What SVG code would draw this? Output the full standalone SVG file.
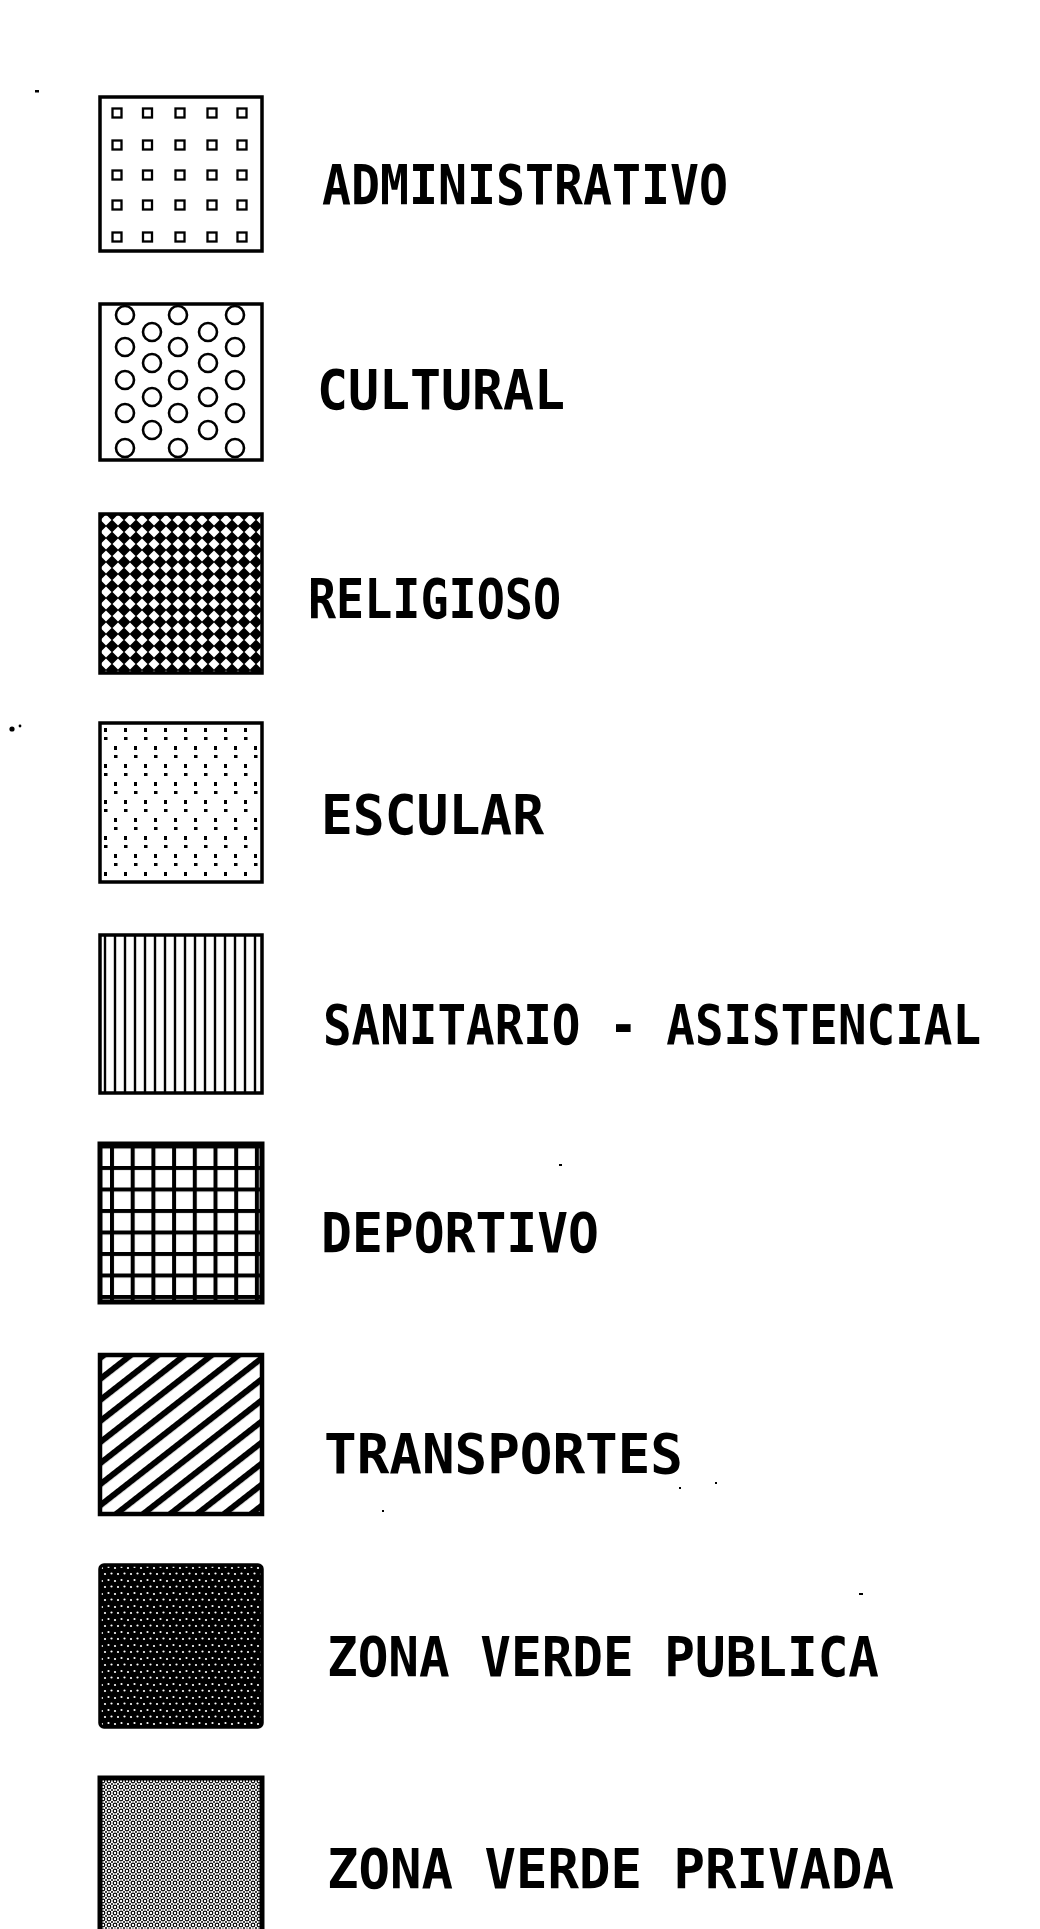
<svg xmlns="http://www.w3.org/2000/svg" width="1040" height="1929" viewBox="0 0 1040 1929">
<style>
.box{stroke:#000;stroke-width:3.5;}
.lbl{font-family:"DejaVu Sans Mono","Liberation Mono",monospace;font-weight:bold;font-size:49px;fill:#000;}
.sq{fill:none;stroke:#000;stroke-width:2.3;}
.ci{fill:none;stroke:#000;stroke-width:2.6;}
</style>
<defs>
<pattern id="pRel" patternUnits="userSpaceOnUse" x="100" y="514" width="12" height="12">
<rect width="12" height="12" fill="#000"/>
<polygon points="6,0.5 11.5,6 6,11.5 0.5,6" fill="#fff"/>
</pattern>
<pattern id="pEsc" patternUnits="userSpaceOnUse" x="100" y="723" width="20" height="36">
<rect width="20" height="36" fill="#fff"/>
<rect x="4" y="5" width="3" height="4" fill="#000"/>
<rect x="4" y="14" width="3.5" height="3" fill="#000"/>
<rect x="14" y="23" width="3" height="4" fill="#000"/>
<rect x="14" y="32" width="3.5" height="3" fill="#000"/>
</pattern>
<pattern id="pSan" patternUnits="userSpaceOnUse" x="100" y="0" width="10" height="10">
<rect width="10" height="10" fill="#fff"/>
<rect x="3.8" y="0" width="2.4" height="10" fill="#000"/>
</pattern>
<pattern id="pDep" patternUnits="userSpaceOnUse" x="110" y="1166" width="20.7" height="21.5">
<rect width="20.7" height="21.5" fill="#fff"/>
<rect x="0" y="0" width="20.7" height="4" fill="#000"/>
<rect x="0" y="0" width="4" height="21.5" fill="#000"/>
</pattern>
<pattern id="pTra" patternUnits="userSpaceOnUse" x="0" y="0" width="200" height="16.6" patternTransform="rotate(-38)">
<rect width="200" height="16.6" fill="#fff"/>
<rect y="0" width="200" height="6" fill="#000"/>
</pattern>
<pattern id="pPub" patternUnits="userSpaceOnUse" x="100" y="1565" width="13" height="13">
<rect width="13" height="13" fill="#000"/>
<circle cx="2" cy="3" r="1.1" fill="#fff"/>
<circle cx="8.5" cy="2" r="1.1" fill="#fff"/>
<circle cx="5" cy="9" r="1.1" fill="#fff"/>
<circle cx="11.5" cy="8.5" r="1.1" fill="#fff"/>
</pattern>
<pattern id="pPri" patternUnits="userSpaceOnUse" x="100" y="1778" width="6" height="6">
<rect width="6" height="6" fill="#fff"/>
<circle cx="3" cy="3" r="1.8" fill="none" stroke="#000" stroke-width="1.2"/>
<circle cx="0" cy="0" r="1" fill="#000"/>
<circle cx="6" cy="0" r="1" fill="#000"/>
<circle cx="0" cy="6" r="1" fill="#000"/>
<circle cx="6" cy="6" r="1" fill="#000"/>
</pattern>
</defs>
<rect width="1040" height="1929" fill="#fff"/>

<g id="administrativo">
<rect class="box" x="100" y="97" width="162" height="154" fill="#fff"/>
<g>
<rect class="sq" x="112.5" y="108.5" width="9" height="9"/><rect class="sq" x="143" y="108.5" width="9" height="9"/><rect class="sq" x="175.5" y="108.5" width="9" height="9"/><rect class="sq" x="207.5" y="108.5" width="9" height="9"/><rect class="sq" x="237.5" y="108.5" width="9" height="9"/>
<rect class="sq" x="112.5" y="140.5" width="9" height="9"/><rect class="sq" x="143" y="140.5" width="9" height="9"/><rect class="sq" x="175.5" y="140.5" width="9" height="9"/><rect class="sq" x="207.5" y="140.5" width="9" height="9"/><rect class="sq" x="237.5" y="140.5" width="9" height="9"/>
<rect class="sq" x="112.5" y="170.5" width="9" height="9"/><rect class="sq" x="143" y="170.5" width="9" height="9"/><rect class="sq" x="175.5" y="170.5" width="9" height="9"/><rect class="sq" x="207.5" y="170.5" width="9" height="9"/><rect class="sq" x="237.5" y="170.5" width="9" height="9"/>
<rect class="sq" x="112.5" y="200.5" width="9" height="9"/><rect class="sq" x="143" y="200.5" width="9" height="9"/><rect class="sq" x="175.5" y="200.5" width="9" height="9"/><rect class="sq" x="207.5" y="200.5" width="9" height="9"/><rect class="sq" x="237.5" y="200.5" width="9" height="9"/>
<rect class="sq" x="112.5" y="232.5" width="9" height="9"/><rect class="sq" x="143" y="232.5" width="9" height="9"/><rect class="sq" x="175.5" y="232.5" width="9" height="9"/><rect class="sq" x="207.5" y="232.5" width="9" height="9"/><rect class="sq" x="237.5" y="232.5" width="9" height="9"/>
</g>
<text class="lbl" transform="translate(322 204) scale(1 1.12)" textLength="406" lengthAdjust="spacingAndGlyphs">ADMINISTRATIVO</text>
</g>

<g id="cultural">
<rect class="box" x="100" y="304" width="162" height="156" fill="#fff"/>
<g>
<circle class="ci" cx="125" cy="315" r="9"/><circle class="ci" cx="178" cy="315" r="9"/><circle class="ci" cx="235" cy="315" r="9"/>
<circle class="ci" cx="125" cy="347" r="9"/><circle class="ci" cx="178" cy="347" r="9"/><circle class="ci" cx="235" cy="347" r="9"/>
<circle class="ci" cx="125" cy="380" r="9"/><circle class="ci" cx="178" cy="380" r="9"/><circle class="ci" cx="235" cy="380" r="9"/>
<circle class="ci" cx="125" cy="413" r="9"/><circle class="ci" cx="178" cy="413" r="9"/><circle class="ci" cx="235" cy="413" r="9"/>
<circle class="ci" cx="125" cy="448" r="9"/><circle class="ci" cx="178" cy="448" r="9"/><circle class="ci" cx="235" cy="448" r="9"/>
<circle class="ci" cx="152" cy="332" r="9"/><circle class="ci" cx="208" cy="332" r="9"/>
<circle class="ci" cx="152" cy="363" r="9"/><circle class="ci" cx="208" cy="363" r="9"/>
<circle class="ci" cx="152" cy="397" r="9"/><circle class="ci" cx="208" cy="397" r="9"/>
<circle class="ci" cx="152" cy="430" r="9"/><circle class="ci" cx="208" cy="430" r="9"/>
</g>
<text class="lbl" transform="translate(317 409) scale(1 1.12)" textLength="248" lengthAdjust="spacingAndGlyphs">CULTURAL</text>
</g>

<g id="religioso">
<rect class="box" x="100" y="514" width="162" height="159" fill="url(#pRel)"/>
<text class="lbl" transform="translate(308 618) scale(1 1.12)" textLength="253" lengthAdjust="spacingAndGlyphs">RELIGIOSO</text>
</g>

<g id="escolar">
<rect class="box" x="100" y="723" width="162" height="159" fill="url(#pEsc)"/>
<text class="lbl" transform="translate(321 834) scale(1 1.12)" textLength="223" lengthAdjust="spacingAndGlyphs">ESCULAR</text>
</g>

<g id="sanitario">
<rect class="box" x="100" y="935" width="162" height="158" fill="url(#pSan)"/>
<text class="lbl" transform="translate(323 1044) scale(1 1.12)" textLength="658" lengthAdjust="spacingAndGlyphs">SANITARIO - ASISTENCIAL</text>
</g>

<g id="deportivo">
<rect class="box" x="100" y="1144" width="162" height="158" fill="url(#pDep)" style="stroke-width:5"/>
<text class="lbl" transform="translate(321 1252) scale(1 1.12)" textLength="278" lengthAdjust="spacingAndGlyphs">DEPORTIVO</text>
</g>

<g id="transportes">
<rect class="box" x="100" y="1355" width="162" height="159" fill="url(#pTra)" style="stroke-width:4.5"/>
<text class="lbl" transform="translate(324 1473) scale(1 1.12)" textLength="359" lengthAdjust="spacingAndGlyphs">TRANSPORTES</text>
</g>

<g id="zona-verde-publica">
<rect class="box" x="100" y="1565" width="162" height="162" rx="4" fill="url(#pPub)"/>
<text class="lbl" transform="translate(327 1676) scale(1 1.12)" textLength="552" lengthAdjust="spacingAndGlyphs">ZONA VERDE PUBLICA</text>
</g>

<g id="zona-verde-privada">
<rect class="box" x="100" y="1778" width="162" height="170" fill="url(#pPri)" style="stroke-width:5"/>
<text class="lbl" transform="translate(327 1888) scale(1 1.12)" textLength="567" lengthAdjust="spacingAndGlyphs">ZONA VERDE PRIVADA</text>
</g>

<g id="connectors"></g>

<g id="specks" fill="#000">
<rect x="35" y="90" width="4" height="2.5"/>
<circle cx="12" cy="729" r="2.6"/>
<circle cx="20" cy="726" r="1.4"/>
<rect x="559" y="1164" width="3" height="2"/>
<rect x="679" y="1487" width="2" height="2"/>
<rect x="715" y="1482" width="2" height="2"/>
<rect x="382" y="1510" width="2" height="2"/>
<rect x="859" y="1593" width="4" height="2"/>
</g>
</svg>
